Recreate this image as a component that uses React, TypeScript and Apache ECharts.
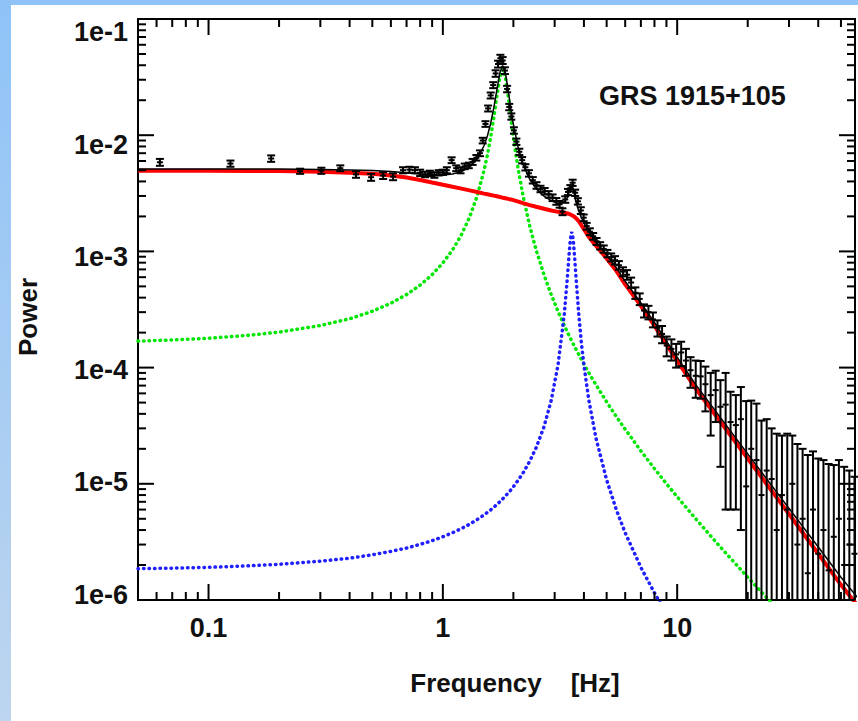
import React, { useEffect, useRef } from 'react';
import * as echarts from 'echarts';

const FONT = "'Liberation Sans', Arial, sans-serif";
const FREQ_MIN = 0.05;
const FREQ_MAX = 57.4;
const POW_MIN = 1e-6;
const POW_MAX = 0.1;

const X_TICKS = [0.1, 1, 10];
const X_TICK_LABELS = ['0.1', '1', '10'];
const Y_TICKS = [1e-6, 1e-5, 1e-4, 1e-3, 1e-2, 1e-1];
const Y_TICK_LABELS = ['1e-6', '1e-5', '1e-4', '1e-3', '1e-2', '1e-1'];

// model frequency grid (Hz)
const MODEL_FREQ = [0.05, 0.07, 0.1, 0.15, 0.2, 0.3, 0.4, 0.5, 0.6, 0.7, 0.8, 0.9, 1.0, 1.1, 1.2, 1.3, 1.4, 1.5, 1.55, 1.6,
  1.65, 1.7, 1.75, 1.8, 1.85, 1.9, 1.95, 2.0, 2.1, 2.2, 2.35, 2.5, 2.7, 2.9, 3.1, 3.3, 3.4, 3.45, 3.5, 3.55,
  3.6, 3.65, 3.7, 3.8, 3.9, 4.0, 4.2, 4.5, 5.0, 5.5, 6, 7, 8, 9, 10, 12, 15, 20, 25, 30, 40, 50, 60];

// red: broad-band component
const BROADBAND = [4.95e-3, 4.95e-3, 4.94e-3, 4.93e-3, 4.91e-3, 4.85e-3, 4.76e-3, 4.65e-3, 4.50e-3, 4.32e-3, 4.12e-3, 3.92e-3,
  3.75e-3, 3.60e-3, 3.47e-3, 3.35e-3, 3.24e-3, 3.14e-3, 3.10e-3, 3.06e-3, 3.02e-3, 2.98e-3, 2.94e-3, 2.90e-3, 2.87e-3,
  2.83e-3, 2.80e-3, 2.76e-3, 2.68e-3, 2.60e-3, 2.50e-3, 2.42e-3, 2.33e-3, 2.25e-3, 2.19e-3, 2.15e-3, 2.12e-3, 2.10e-3,
  2.08e-3, 2.05e-3, 2.02e-3, 1.98e-3, 1.93e-3, 1.82e-3, 1.68e-3, 1.55e-3, 1.33e-3, 1.12e-3, 8.7e-4, 6.8e-4, 5.2e-4,
  3.4e-4, 2.3e-4, 1.58e-4, 1.15e-4, 6.6e-5, 3.6e-5, 1.65e-5, 9.0e-6, 5.5e-6, 2.5e-6, 1.35e-6, 8.5e-7];

// green: QPO fundamental
const QPO = [1.69e-4, 1.73e-4, 1.79e-4, 1.90e-4, 2.02e-4, 2.30e-4, 2.63e-4, 3.05e-4, 3.58e-4, 4.25e-4, 5.13e-4, 6.31e-4,
  7.95e-4, 1.03e-3, 1.39e-3, 1.97e-3, 2.99e-3, 5.00e-3, 6.79e-3, 9.61e-3, 1.42e-2, 2.16e-2, 3.13e-2, 3.69e-2, 3.13e-2,
  2.16e-2, 1.42e-2, 9.61e-3, 5.00e-3, 2.99e-3, 1.64e-3, 1.03e-3, 6.31e-4, 4.25e-4, 3.05e-4, 2.30e-4, 2.02e-4, 1.90e-4,
  1.79e-4, 1.69e-4, 1.60e-4, 1.51e-4, 1.44e-4, 1.30e-4, 1.18e-4, 1.07e-4, 9.0e-5, 7.12e-5, 5.07e-5, 3.79e-5, 2.95e-5,
  1.92e-5, 1.35e-5, 1.00e-5, 7.73e-6, 5.00e-6, 2.98e-6, 1.57e-6, 9.66e-7, 6.54e-7, 3.56e-7, 2.24e-7, 1.54e-7];

// blue: QPO harmonic
const HARMONIC = [1.86e-6, 1.88e-6, 1.91e-6, 1.97e-6, 2.03e-6, 2.16e-6, 2.29e-6, 2.45e-6, 2.62e-6, 2.80e-6, 3.01e-6, 3.24e-6,
  3.50e-6, 3.79e-6, 4.12e-6, 4.49e-6, 4.92e-6, 5.41e-6, 5.68e-6, 5.97e-6, 6.29e-6, 6.63e-6, 7.00e-6, 7.41e-6, 7.85e-6,
  8.33e-6, 8.85e-6, 9.43e-6, 1.08e-5, 1.24e-5, 1.57e-5, 2.04e-5, 3.09e-5, 5.21e-5, 1.05e-4, 2.92e-4, 6.00e-4, 8.94e-4,
  1.27e-3, 1.47e-3, 1.27e-3, 8.94e-4, 6.00e-4, 2.92e-4, 1.65e-4, 1.05e-4, 5.21e-5, 2.48e-5, 1.08e-5, 5.97e-6, 3.79e-6,
  1.91e-6, 1.15e-6, 7.67e-7, 5.48e-7, 3.19e-7, 1.74e-7, 8.4e-8, 5.0e-8, 3.3e-8, 1.7e-8, 1.0e-8, 7.0e-9];

// black: total model
const TOTAL = [5.12e-3, 5.12e-3, 5.12e-3, 5.12e-3, 5.11e-3, 5.08e-3, 5.03e-3, 4.96e-3, 4.86e-3, 4.75e-3, 4.64e-3, 4.55e-3,
  4.55e-3, 4.63e-3, 4.86e-3, 5.32e-3, 6.23e-3, 8.15e-3, 9.90e-3, 1.268e-2, 1.724e-2, 2.459e-2, 3.424e-2, 3.981e-2, 3.418e-2,
  2.444e-2, 1.701e-2, 1.238e-2, 7.69e-3, 5.60e-3, 4.16e-3, 3.47e-3, 2.99e-3, 2.73e-3, 2.60e-3, 2.67e-3, 2.92e-3, 3.18e-3,
  3.53e-3, 3.69e-3, 3.45e-3, 3.03e-3, 2.67e-3, 2.24e-3, 1.96e-3, 1.76e-3, 1.47e-3, 1.22e-3, 9.32e-4, 7.24e-4, 5.53e-4,
  3.61e-4, 2.45e-4, 1.69e-4, 1.23e-4, 7.13e-5, 3.92e-5, 1.81e-5, 9.97e-6, 6.15e-6, 2.86e-6, 1.57e-6, 1.00e-6];

// observed power spectrum (Hz, power, 1-sigma error)
const DATA_FREQ = [0.062, 0.124, 0.185, 0.246, 0.303, 0.365, 0.426, 0.494, 0.556, 0.613, 0.676, 0.72, 0.76, 0.80, 0.84,
  0.88, 0.92, 0.96, 1.00, 1.04, 1.09, 1.14, 1.19, 1.24, 1.29, 1.34, 1.39, 1.44, 1.48, 1.52, 1.56, 1.60, 1.64, 1.68,
  1.72, 1.76, 1.80, 1.84, 1.88, 1.92, 1.96, 2.01, 2.06, 2.12, 2.18, 2.25, 2.33, 2.42, 2.51, 2.61, 2.72, 2.83, 2.94,
  3.05, 3.15, 3.24, 3.33, 3.42, 3.50, 3.58, 3.67, 3.77, 3.88, 3.99, 4.11, 4.24, 4.38, 4.53, 4.69, 4.86, 5.04, 5.23,
  5.43, 5.64, 5.87, 6.11, 6.36, 6.63, 6.92, 7.22, 7.54, 7.88, 8.24, 8.62, 9.02, 9.45, 9.90, 10.4, 10.9, 11.4, 12.0,
  12.6, 13.2, 13.9, 14.6, 15.3, 16.1, 16.9, 17.8, 18.7, 19.7, 20.7, 21.8, 22.9, 24.1, 25.3, 26.6, 28.0, 29.5, 31.0,
  32.6, 34.3, 36.1, 38.0, 40.0, 42.1, 44.3, 46.6, 49.0, 51.6, 54.3, 57.1];
const DATA_POWER = [5.85e-3, 5.70e-3, 6.30e-3, 4.90e-3, 4.95e-3, 5.20e-3, 4.60e-3, 4.35e-3, 4.50e-3, 4.40e-3, 5.00e-3,
  5.05e-3, 5.00e-3, 4.75e-3, 4.60e-3, 4.70e-3, 4.55e-3, 4.75e-3, 4.80e-3, 5.00e-3, 6.10e-3, 5.20e-3, 5.00e-3, 5.40e-3,
  5.50e-3, 5.90e-3, 6.40e-3, 7.00e-3, 9.00e-3, 1.25e-2, 1.70e-2, 2.20e-2, 2.70e-2, 3.40e-2, 4.10e-2, 4.60e-2, 4.40e-2,
  3.60e-2, 2.50e-2, 1.75e-2, 1.45e-2, 1.10e-2, 8.80e-3, 7.20e-3, 6.10e-3, 5.30e-3, 4.70e-3, 4.10e-3, 3.70e-3, 3.45e-3,
  3.30e-3, 3.10e-3, 2.90e-3, 2.70e-3, 2.55e-3, 2.20e-3, 2.80e-3, 3.25e-3, 3.50e-3, 3.90e-3, 3.20e-3, 2.70e-3, 2.25e-3,
  1.95e-3, 1.65e-3, 1.48e-3, 1.35e-3, 1.22e-3, 1.12e-3, 1.05e-3, 9.60e-4, 8.90e-4, 8.40e-4, 7.60e-4, 6.70e-4, 6.30e-4,
  5.40e-4, 4.40e-4, 3.90e-4, 3.10e-4, 3.00e-4, 2.60e-4, 2.20e-4, 1.95e-4, 1.55e-4, 1.45e-4, 1.30e-4, 1.35e-4, 1.15e-4,
  9.50e-5, 8.50e-5, 8.40e-5, 7.20e-5, 5.80e-5, 6.40e-5, 4.60e-5, 4.80e-5, 3.40e-5, 3.20e-5, 3.60e-5, 9.50e-6, 2.00e-5,
  1.60e-5, 8.00e-6, 1.30e-5, 1.10e-5, 4.00e-6, 8.00e-6, 6.00e-6, 1.00e-5, 3.00e-6, 5.00e-6, 1.70e-6, 6.00e-6, 2.50e-6,
  4.00e-6, 1.80e-6, 3.50e-6, 5.00e-6, 2.00e-6, 3.00e-6, 2.50e-6];
const DATA_ERR = [4.0e-4, 3.5e-4, 4.0e-4, 2.5e-4, 3.0e-4, 3.0e-4, 3.0e-4, 3.0e-4, 3.0e-4, 3.0e-4, 3.0e-4, 3.0e-4, 3.0e-4,
  3.0e-4, 2.5e-4, 2.5e-4, 2.5e-4, 2.5e-4, 2.5e-4, 3.0e-4, 3.5e-4, 3.0e-4, 3.0e-4, 3.0e-4, 3.0e-4, 3.5e-4, 3.5e-4, 4.0e-4,
  5.0e-4, 7.0e-4, 1.0e-3, 1.3e-3, 1.6e-3, 2.2e-3, 2.8e-3, 3.2e-3, 3.0e-3, 2.4e-3, 1.6e-3, 1.1e-3, 9.0e-4, 7.0e-4, 5.5e-4,
  4.5e-4, 3.8e-4, 3.3e-4, 3.0e-4, 2.6e-4, 2.4e-4, 2.2e-4, 2.1e-4, 2.0e-4, 1.9e-4, 1.8e-4, 1.7e-4, 1.5e-4, 1.8e-4, 2.0e-4,
  2.2e-4, 2.4e-4, 2.0e-4, 1.7e-4, 1.5e-4, 1.3e-4, 1.1e-4, 1.0e-4, 9.0e-5, 8.5e-5, 8.0e-5, 7.5e-5, 7.0e-5, 7.0e-5, 7.0e-5,
  6.5e-5, 6.0e-5, 6.0e-5, 5.5e-5, 5.0e-5, 4.5e-5, 4.0e-5, 4.0e-5, 3.8e-5, 3.5e-5, 3.3e-5, 3.0e-5, 3.0e-5, 3.0e-5, 3.2e-5,
  3.0e-5, 2.8e-5, 3.0e-5, 3.0e-5, 3.0e-5, 3.2e-5, 3.0e-5, 3.2e-5, 4.2e-5, 2.8e-5, 2.6e-5, 3.2e-5, 4.2e-5, 3.2e-5, 3.3e-5,
  2.7e-5, 2.3e-5, 1.9e-5, 2.3e-5, 1.8e-5, 2.1e-5, 1.6e-5, 1.9e-5, 1.5e-5, 1.6e-5, 1.3e-5, 1.4e-5, 1.2e-5, 1.3e-5, 1.1e-5,
  1.1e-5, 1.2e-5, 1.0e-5, 9.0e-6];

// axis tick positions (decorations drawn through the axes' own scales)
const X_MINOR_TICKS: number[] = [];
for (let e = -2; e <= 1; e++) {
  for (let m = 2; m <= 9; m++) {
    const v = m * Math.pow(10, e);
    if (v > FREQ_MIN * 1.001 && v < FREQ_MAX) X_MINOR_TICKS.push(v);
  }
}
const Y_MINOR_TICKS: number[] = [];
for (let e = -6; e <= -2; e++) {
  for (let m = 2; m <= 9; m++) Y_MINOR_TICKS.push(m * Math.pow(10, e));
}

function labelFor(v: number, ticks: number[], labels: string[]): string {
  const i = ticks.findIndex((t) => Math.abs(Math.log10(v) - Math.log10(t)) < 1e-6);
  return i >= 0 ? labels[i] : '';
}

function pairs(xs: number[], ys: number[]) {
  return xs.map((x, i) => [x, ys[i]]);
}

function buildOption(): any {
  const tickData = [
    ...X_TICKS.map((v) => [v, POW_MIN, 0]),
    ...X_MINOR_TICKS.map((v) => [v, POW_MIN, 1]),
    ...Y_TICKS.map((v) => [FREQ_MIN, v, 2]),
    ...Y_MINOR_TICKS.map((v) => [FREQ_MIN, v, 3]),
  ];
  const errData = DATA_FREQ.map((f, i) => [
    f,
    DATA_POWER[i],
    Math.max(DATA_POWER[i] - DATA_ERR[i], 1e-9),
    DATA_POWER[i] + DATA_ERR[i],
  ]);
  const labelStyle = { fontFamily: FONT, fontSize: 27, fontWeight: 'bold', color: '#111' };

  return {
    animation: false,
    backgroundColor: 'transparent',
    textStyle: { fontFamily: FONT },
    title: {
      text: 'GRS 1915+105',
      left: 599,
      top: 82,
      padding: 0,
      textStyle: { fontFamily: FONT, fontSize: 27, fontWeight: 'bold', color: '#111' },
    },
    grid: {
      left: 138,
      top: 19,
      width: 719,
      height: 581,
      show: true,
      borderColor: '#000',
      borderWidth: 2,
      backgroundColor: 'transparent',
    },
    xAxis: {
      type: 'log',
      logBase: 10,
      min: FREQ_MIN,
      max: FREQ_MAX,
      name: 'Frequency    [Hz]',
      nameLocation: 'middle',
      nameGap: 70,
      nameTextStyle: { fontFamily: FONT, fontSize: 26, fontWeight: 'bold', color: '#111', padding: [0, 0, 0, 37] },
      axisLine: { show: false },
      axisTick: { show: false },
      splitLine: { show: false },
      axisLabel: {
        ...labelStyle,
        margin: 14,
        formatter: (v: number) => labelFor(v, X_TICKS, X_TICK_LABELS),
      },
    },
    yAxis: [
      {
        type: 'log',
        logBase: 10,
        min: POW_MIN,
        max: POW_MAX,
        name: 'Power',
        nameLocation: 'middle',
        nameGap: 97,
        nameTextStyle: { fontFamily: FONT, fontSize: 26, fontWeight: 'bold', color: '#111', padding: [0, 15, 0, 0] },
        axisLine: { show: false },
        axisTick: { show: false },
        splitLine: { show: false },
        axisLabel: { show: false },
      },
      {
        // label axis: the reference's tick labels sit on a slightly compressed scale
        type: 'log',
        logBase: 10,
        min: 9.027e-7,
        max: 0.13044,
        position: 'left',
        axisLine: { show: false },
        axisTick: { show: false },
        splitLine: { show: false },
        axisLabel: {
          ...labelStyle,
          margin: 10,
          formatter: (v: number) => labelFor(v, Y_TICKS, Y_TICK_LABELS),
        },
      },
    ],
    series: [
      {
        name: 'QPO',
        type: 'line',
        data: pairs(MODEL_FREQ, QPO),
        showSymbol: false,
        clip: true,
        z: 2,
        lineStyle: { color: '#00e600', width: 3.5, type: [0.5, 5], cap: 'round' },
      },
      {
        name: 'Harmonic',
        type: 'line',
        data: pairs(MODEL_FREQ, HARMONIC),
        showSymbol: false,
        clip: true,
        z: 2,
        lineStyle: { color: '#2020ff', width: 3.5, type: [0.5, 5], cap: 'round' },
      },
      {
        name: 'Broad-band',
        type: 'line',
        data: pairs(MODEL_FREQ, BROADBAND),
        showSymbol: false,
        clip: true,
        z: 3,
        lineStyle: { color: '#ff0000', width: 4 },
      },
      {
        name: 'Data',
        type: 'custom',
        z: 4,
        silent: true,
        data: errData,
        encode: { x: 0, y: 1 },
        renderItem: (params: any, api: any) => {
          const cs = params.coordSys;
          const top = cs.y;
          const bottom = cs.y + cs.height;
          const f = api.value(0);
          const mid = api.coord([f, api.value(1)]);
          const x = mid[0];
          const yHi = api.coord([f, api.value(3)])[1];
          const yLo = api.coord([f, api.value(2)])[1];
          const y1 = Math.max(yHi, top);
          const y2 = Math.min(yLo, bottom);
          const style = { stroke: '#000', lineWidth: 2 };
          const children: any[] = [
            { type: 'line', shape: { x1: x, y1, x2: x, y2 }, style },
          ];
          if (yHi >= top) children.push({ type: 'line', shape: { x1: x - 4, y1: yHi, x2: x + 4, y2: yHi }, style });
          if (yLo <= bottom) children.push({ type: 'line', shape: { x1: x - 4, y1: yLo, x2: x + 4, y2: yLo }, style });
          if (mid[1] >= top && mid[1] <= bottom)
            children.push({ type: 'line', shape: { x1: x - 3, y1: mid[1], x2: x + 3, y2: mid[1] }, style });
          return { type: 'group', children };
        },
      },
      {
        name: 'Total model',
        type: 'line',
        data: pairs(MODEL_FREQ, TOTAL),
        showSymbol: false,
        clip: true,
        z: 5,
        lineStyle: { color: '#000', width: 1.5 },
      },
      {
        name: 'ticks',
        type: 'custom',
        z: 6,
        silent: true,
        data: tickData,
        encode: { x: 0, y: 1 },
        renderItem: (params: any, api: any) => {
          const cs = params.coordSys;
          const left = cs.x;
          const right = cs.x + cs.width;
          const top = cs.y;
          const bottom = cs.y + cs.height;
          const kind = api.value(2);
          const style = { stroke: '#000', lineWidth: 2 };
          if (kind <= 1) {
            const x = api.coord([api.value(0), POW_MIN])[0];
            const len = kind === 0 ? 16 : 8;
            return {
              type: 'group',
              children: [
                { type: 'line', shape: { x1: x, y1: bottom, x2: x, y2: bottom - len }, style },
                { type: 'line', shape: { x1: x, y1: top, x2: x, y2: top + len }, style },
              ],
            };
          }
          const y = api.coord([FREQ_MIN, api.value(1)])[1];
          const len = kind === 2 ? 16 : 8;
          return {
            type: 'group',
            children: [
              { type: 'line', shape: { x1: left, y1: y, x2: left + len, y2: y }, style },
              { type: 'line', shape: { x1: right, y1: y, x2: right - len, y2: y }, style },
            ],
          };
        },
      },
    ],
  };
}

export default function App() {
  const ref = useRef<HTMLDivElement>(null);
  useEffect(() => {
    if (!ref.current) return;
    const chart = echarts.init(ref.current, null, { renderer: 'svg' });
    chart.setOption(buildOption());
    return () => {
      chart.dispose();
    };
  }, []);
  return (
    <div
      style={{
        position: 'fixed',
        left: 0,
        top: 0,
        width: 858,
        height: 721,
        background: 'linear-gradient(to bottom, #8fc3f8, #bdd5ee)',
        overflow: 'hidden',
      }}
    >
      <div style={{ position: 'absolute', left: 11, top: 5, right: 0, bottom: 0, background: '#fff' }} />
      <div ref={ref} style={{ position: 'absolute', left: 0, top: 0, width: 858, height: 721 }} />
    </div>
  );
}
